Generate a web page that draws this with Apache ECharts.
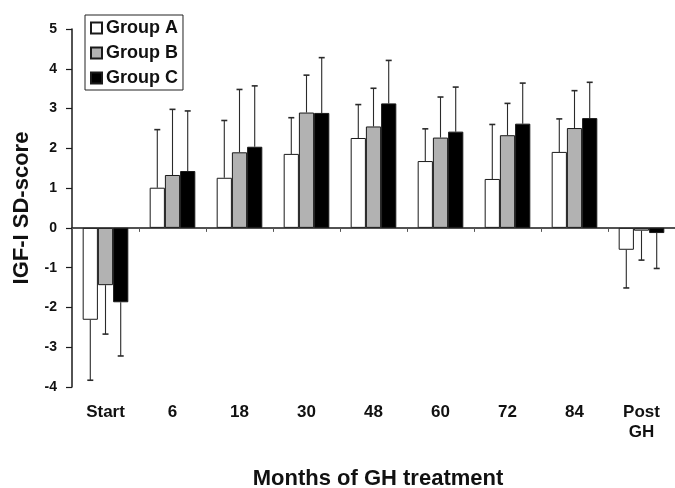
<!DOCTYPE html>
<html>
<head>
<meta charset="utf-8">
<script src="https://cdn.jsdelivr.net/npm/echarts@6/dist/echarts.min.js"></script>
<style>
html,body{margin:0;padding:0;background:#fff;}
#chart{width:675px;height:488px;}
</style>
</head>
<body>
<div id="chart"></div>
<script>
// ---- data ----
var categories = ['Start', '6', '18', '30', '48', '60', '72', '84', 'Post\nGH'];
var groupA = [-2.31, 1.01, 1.26, 1.86, 2.26, 1.68, 1.23, 1.91, -0.55];
var groupB = [-1.44, 1.33, 1.90, 2.90, 2.55, 2.27, 2.33, 2.51, -0.07];
var groupC = [-1.87, 1.43, 2.04, 2.89, 3.13, 2.42, 2.62, 2.76, -0.13];
var sdA = [1.52, 1.46, 1.44, 0.91, 0.84, 0.81, 1.37, 0.83, 0.96];
var sdB = [1.23, 1.65, 1.58, 0.94, 0.96, 1.02, 0.80, 0.94, 0.74];
var sdC = [1.35, 1.51, 1.53, 1.39, 1.08, 1.12, 1.02, 0.90, 0.89];
var groupNames = ['Group A', 'Group B', 'Group C'];
var yTicks = {min: -4, max: 5, interval: 1};
var xTitle = 'Months of GH treatment';
var yTitle = 'IGF-I SD-score';

var FONT = '"Liberation Sans", Arial, sans-serif';
var BAR_FRAC = 0.227;

function errData(means, sds) {
  return means.map(function (m, i) { return [i, m, sds[i]]; });
}

function errSeries(name, means, sds, idx) {
  return {
    name: name,
    type: 'custom',
    xAxisIndex: 0,
    z: 5,
    silent: true,
    encode: {x: 0, y: 1},
    data: errData(means, sds),
    renderItem: function (params, api) {
      var cat = api.value(0), m = api.value(1), sd = api.value(2);
      var sign = m < 0 ? -1 : 1;
      var bw = api.size([1, 0])[0] * BAR_FRAC;
      var off = (idx - 1) * bw;
      var p0 = api.coord([cat, m]);
      var p1 = api.coord([cat, m + sign * sd]);
      var x = p0[0] + off;
      var style = {stroke: '#2a2a2a', lineWidth: 1.1};
      return {
        type: 'group',
        children: [
          {type: 'line', shape: {x1: x, y1: p0[1], x2: x, y2: p1[1]}, style: style},
          {type: 'line', shape: {x1: x - 3, y1: p1[1], x2: x + 3, y2: p1[1]}, style: {stroke: '#2a2a2a', lineWidth: 1.6}}
        ]
      };
    }
  };
}

var fills = ['#ffffff', '#b2b2b2', '#000000'];
var means = [groupA, groupB, groupC];
var sds = [sdA, sdB, sdC];

var series = [];
for (var i = 0; i < 3; i++) {
  series.push({
    name: groupNames[i],
    type: 'bar',
    xAxisIndex: 0,
    data: means[i],
    barWidth: (BAR_FRAC * 100) + '%',
    barGap: '0%',
    itemStyle: {color: fills[i], borderColor: '#1a1a1a', borderWidth: 1}
  });
}
for (var j = 0; j < 3; j++) {
  series.push(errSeries('err' + j, means[j], sds[j], j));
}

var chart = echarts.init(document.getElementById('chart'), null, {renderer: 'canvas'});
chart.setOption({
  animation: false,
  backgroundColor: '#ffffff',
  grid: {left: 72, right: -3, top: 29, bottom: 101, containLabel: false},
  legend: {
    data: groupNames,
    orient: 'vertical',
    icon: 'rect',
    left: 85,
    top: 15,
    padding: [4, 5, 3, 5],
    itemGap: 7,
    itemWidth: 11,
    itemHeight: 11,
    borderColor: '#222',
    borderWidth: 1,
    backgroundColor: '#fff',
    selectedMode: false,
    textStyle: {fontFamily: FONT, fontWeight: 'bold', fontSize: 18, color: '#111', padding: [0, 0, 0, -1]}
  },
  xAxis: [
    {
      type: 'category',
      data: categories,
      position: 'bottom',
      axisLine: {onZero: true, lineStyle: {color: '#1a1a1a', width: 1.5}},
      axisTick: {show: true, length: 4, lineStyle: {color: '#555', width: 1}},
      axisLabel: {show: false},
      splitLine: {show: false}
    },
    {
      type: 'category',
      data: categories,
      position: 'bottom',
      axisLine: {show: false, onZero: false},
      axisTick: {show: false},
      axisLabel: {
        margin: 15,
        fontFamily: FONT, fontWeight: 'bold', fontSize: 17, color: '#111', lineHeight: 20
      },
      splitLine: {show: false}
    }
  ],
  yAxis: {
    type: 'value',
    min: yTicks.min,
    max: yTicks.max,
    interval: yTicks.interval,
    axisLine: {show: true, lineStyle: {color: '#1a1a1a', width: 1.5}},
    axisTick: {show: true, length: 6, lineStyle: {color: '#1a1a1a', width: 1.2}},
    axisLabel: {margin: 15, fontFamily: FONT, fontWeight: 'bold', fontSize: 14, color: '#111'},
    splitLine: {show: false}
  },
  graphic: [
    {
      type: 'text',
      position: [378, 479],
      style: {text: xTitle, x: 0, y: 0, font: 'bold 22px ' + FONT, fill: '#111', textAlign: 'center', textVerticalAlign: 'middle'}
    },
    {
      type: 'text',
      position: [22, 208],
      rotation: Math.PI / 2,
      style: {text: yTitle, x: 0, y: 0, font: 'bold 22px ' + FONT, fill: '#111', textAlign: 'center', textVerticalAlign: 'middle'}
    }
  ],
  series: series
});
</script>
</body>
</html>
